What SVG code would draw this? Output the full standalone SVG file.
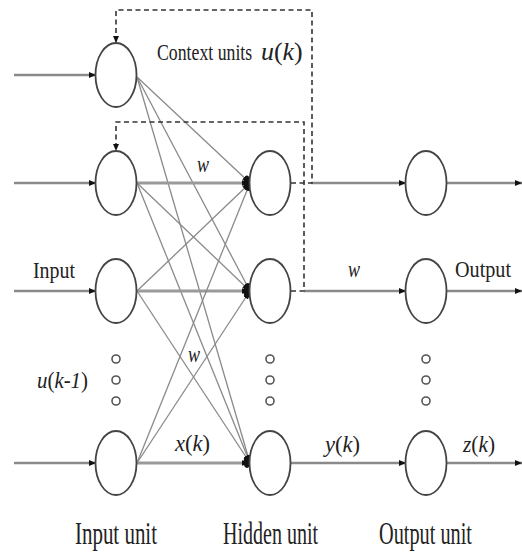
<svg xmlns="http://www.w3.org/2000/svg" width="522" height="552" viewBox="0 0 522 552">
<defs>
<marker id="ah" markerUnits="userSpaceOnUse" markerWidth="9" markerHeight="8" refX="8" refY="4" orient="auto"><path d="M0,1.2 L8,4 L0,6.8 Z" fill="#111"/></marker>
<marker id="as" markerUnits="userSpaceOnUse" markerWidth="8" markerHeight="8" refX="7" refY="4" orient="auto"><path d="M0,1 L7,4 L0,7 Z" fill="#111"/></marker>
<style>
.node{fill:#fff;stroke:#444;stroke-width:1.8}
.dot{fill:#fff;stroke:#555;stroke-width:1.6}
.io{stroke:#8a8a8a;stroke-width:2.6;fill:none}
.hz{stroke:#9a9a9a;stroke-width:2.8;fill:none}
.dg{stroke:#8a8a8a;stroke-width:1.3;fill:none}
.ds{stroke:#333;stroke-width:1.6;fill:none;stroke-dasharray:5,3.5}
.blob{fill:#111}
text{font-family:"Liberation Serif","Times New Roman",serif;font-size:24px;fill:#222}
.it{font-style:italic}
.big{font-size:31px}
</style>
</defs>
<g id="connectors">
<line class="io" x1="14" y1="75" x2="96" y2="75" marker-end="url(#as)"/>
<line class="io" x1="14" y1="183" x2="96" y2="183" marker-end="url(#as)"/>
<line class="io" x1="14" y1="291" x2="96" y2="291" marker-end="url(#as)"/>
<line class="io" x1="14" y1="463" x2="96" y2="463" marker-end="url(#as)"/>
<line class="dg" x1="137" y1="77" x2="250" y2="183" marker-end="url(#ah)"/>
<line class="dg" x1="137" y1="77" x2="250" y2="291" marker-end="url(#ah)"/>
<line class="dg" x1="137" y1="77" x2="250" y2="463" marker-end="url(#ah)"/>
<line class="hz" x1="137" y1="183" x2="250" y2="183" marker-end="url(#ah)"/>
<line class="dg" x1="137" y1="183" x2="250" y2="291" marker-end="url(#ah)"/>
<line class="dg" x1="137" y1="183" x2="250" y2="463" marker-end="url(#ah)"/>
<line class="dg" x1="137" y1="291" x2="250" y2="183" marker-end="url(#ah)"/>
<line class="hz" x1="137" y1="291" x2="250" y2="291" marker-end="url(#ah)"/>
<line class="dg" x1="137" y1="291" x2="250" y2="463" marker-end="url(#ah)"/>
<line class="dg" x1="137" y1="463" x2="250" y2="183" marker-end="url(#ah)"/>
<line class="dg" x1="137" y1="463" x2="250" y2="291" marker-end="url(#ah)"/>
<line class="hz" x1="137" y1="463" x2="250" y2="463" marker-end="url(#ah)"/>
<ellipse class="blob" cx="247" cy="183" rx="3.5" ry="7.5"/>
<ellipse class="blob" cx="247" cy="291" rx="3.5" ry="7.5"/>
<ellipse class="blob" cx="247" cy="462" rx="3.5" ry="6"/>
<line class="io" x1="311" y1="183" x2="406" y2="183" marker-end="url(#as)"/>
<line class="io" x1="304" y1="291" x2="406" y2="291" marker-end="url(#as)"/>
<line class="io" x1="290" y1="463" x2="406" y2="463" marker-end="url(#as)"/>
<line class="io" x1="446" y1="183" x2="522" y2="183" marker-end="url(#as)"/>
<line class="io" x1="446" y1="291" x2="522" y2="291" marker-end="url(#as)"/>
<line class="io" x1="446" y1="463" x2="522" y2="463" marker-end="url(#as)"/>
<path class="ds" d="M291,183 H312 V10 H116 V43" marker-end="url(#as)"/>
<path class="ds" d="M291,291 H304 V122 H116 V151" marker-end="url(#as)"/>
</g>
<g id="input1"><ellipse class="node" cx="116" cy="75" rx="20.5" ry="32"/></g>
<g id="input2"><ellipse class="node" cx="116" cy="183" rx="20.5" ry="32"/></g>
<g id="input3"><ellipse class="node" cx="116" cy="291" rx="20.5" ry="32"/></g>
<g id="input4"><ellipse class="node" cx="116" cy="463" rx="20.5" ry="32"/></g>
<g id="hidden1"><ellipse class="node" cx="270" cy="183" rx="20.5" ry="32"/></g>
<g id="hidden2"><ellipse class="node" cx="270" cy="291" rx="20.5" ry="32"/></g>
<g id="hidden3"><ellipse class="node" cx="270" cy="463" rx="20.5" ry="32"/></g>
<g id="output1"><ellipse class="node" cx="426" cy="183" rx="20.5" ry="32"/></g>
<g id="output2"><ellipse class="node" cx="426" cy="291" rx="20.5" ry="32"/></g>
<g id="output3"><ellipse class="node" cx="426" cy="463" rx="20.5" ry="32"/></g>
<g id="ellipsis">
<circle class="dot" cx="116" cy="359" r="4"/><circle class="dot" cx="116" cy="380" r="4"/><circle class="dot" cx="116" cy="401" r="4"/>
<circle class="dot" cx="270" cy="359" r="4"/><circle class="dot" cx="270" cy="380" r="4"/><circle class="dot" cx="270" cy="401" r="4"/>
<circle class="dot" cx="426" cy="359" r="4"/><circle class="dot" cx="426" cy="380" r="4"/><circle class="dot" cx="426" cy="401" r="4"/>
</g>
<g id="labels">
<text transform="translate(157,60) scale(0.74,1)" font-size="27">Context units</text>
<text transform="translate(261,60) scale(1.08,1.06)"><tspan class="it">u</tspan>(<tspan class="it">k</tspan>)</text>
<text class="it" x="197" y="172" textLength="12" lengthAdjust="spacingAndGlyphs">w</text>
<text x="33" y="278" textLength="42" lengthAdjust="spacingAndGlyphs">Input</text>
<text class="it" x="348" y="277" textLength="12" lengthAdjust="spacingAndGlyphs">w</text>
<text x="455" y="277" textLength="56" lengthAdjust="spacingAndGlyphs">Output</text>
<text class="it" x="188" y="362" textLength="12" lengthAdjust="spacingAndGlyphs">w</text>
<text transform="translate(37,388) scale(0.87,1)"><tspan class="it">u</tspan>(<tspan class="it">k-1</tspan>)</text>
<text transform="translate(175,451) scale(0.94,1)"><tspan class="it">x</tspan>(<tspan class="it">k</tspan>)</text>
<text transform="translate(325,452) scale(0.94,1)"><tspan class="it">y</tspan>(<tspan class="it">k</tspan>)</text>
<text transform="translate(463,452) scale(0.89,1)"><tspan class="it">z</tspan>(<tspan class="it">k</tspan>)</text>
<text class="big" x="75" y="544" textLength="82" lengthAdjust="spacingAndGlyphs">Input unit</text>
<text class="big" x="223" y="544" textLength="95" lengthAdjust="spacingAndGlyphs">Hidden unit</text>
<text class="big" x="379" y="544" textLength="93" lengthAdjust="spacingAndGlyphs">Output unit</text>
</g>
</svg>
